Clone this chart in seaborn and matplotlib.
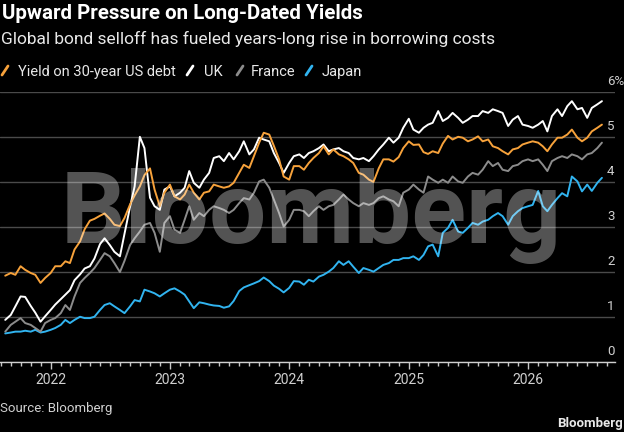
#  Import Libraries

import pandas as pd
import numpy as np
import matplotlib
matplotlib.use("Agg")
import matplotlib.pyplot as plt
import matplotlib.dates as mdates
import matplotlib.transforms as mtransforms
from matplotlib.lines import Line2D
import seaborn as sns

sns.set_theme(style="dark")
plt.rcParams['font.family'] = ['Roboto', 'DejaVu Sans']

# ==========================
#  Data (semi-monthly readings, %)
# ==========================
dates = pd.date_range("2021-08-15", periods=121, freq="SMS")

us_30y = [1.92, 1.98, 1.94, 2.13, 2.05, 1.98, 1.94, 1.76, 1.87, 1.98,
          2.13, 2.13, 2.24, 2.20, 2.50, 2.68, 2.95, 3.14, 3.18, 3.25,
          3.30, 3.18, 3.05, 3.02, 3.20, 3.50, 3.70, 3.90, 4.15,
          4.30, 3.83, 3.46, 3.76, 3.94, 3.68, 3.61, 3.72, 3.94, 3.76,
          3.61, 3.76, 3.79, 3.94, 3.90, 3.87, 3.90, 3.98, 4.20, 4.38,
          4.31, 4.57, 4.87, 5.09, 5.05, 4.80, 4.50, 4.12, 4.05, 4.35,
          4.35, 4.27, 4.42, 4.53, 4.64, 4.79, 4.61, 4.72, 4.61, 4.57,
          4.50, 4.42, 4.20, 4.16, 4.05, 4.00, 4.30, 4.50, 4.50, 4.45,
          4.55, 4.75, 4.90, 4.82, 4.83, 4.66, 4.62, 4.68, 4.64, 4.85,
          5.02, 4.94,
          5.00, 4.98, 4.90, 4.94, 5.01, 4.90, 4.94, 4.79, 4.75, 4.68,
          4.61, 4.72, 4.75, 4.83, 4.87, 4.90, 4.87, 4.79, 4.68, 4.83,
          4.98, 4.98, 5.05, 5.16, 4.98, 4.90, 4.98, 5.12, 5.20, 5.27]

uk = [0.94, 1.05, 1.24, 1.46, 1.45, 1.25, 1.10, 0.90, 1.02, 1.16,
      1.28, 1.40, 1.50, 1.60, 1.82, 1.95, 2.08, 2.13, 2.30, 2.62,
      2.75, 2.60, 2.45, 2.35, 2.85, 3.45, 3.90, 5.00, 4.75,
      3.65, 3.46, 3.38, 3.83, 3.90, 3.68, 3.76, 3.87, 4.24, 3.98,
      3.87, 4.05, 4.20, 4.53, 4.57, 4.46, 4.64, 4.50, 4.68, 4.90,
      4.61, 4.72, 4.98, 4.94, 4.90, 4.64, 4.42, 4.20, 4.42, 4.57,
      4.61, 4.53, 4.64, 4.68, 4.75, 4.83, 4.68, 4.72, 4.75, 4.68,
      4.64, 4.53, 4.50, 4.53, 4.46, 4.57, 4.72, 4.83, 4.98, 4.87,
      4.98, 5.20, 5.40, 5.16, 5.09, 5.20, 5.27, 5.31, 5.57, 5.35,
      5.42, 5.53,
      5.42, 5.31, 5.38, 5.46, 5.46, 5.57, 5.53, 5.61, 5.57, 5.53,
      5.24, 5.38, 5.46, 5.27, 5.24, 5.20, 5.27, 5.35, 5.12, 5.46,
      5.61, 5.46, 5.68, 5.79, 5.61, 5.64, 5.42, 5.64, 5.72, 5.79]

france = [0.68, 0.83, 0.90, 0.98, 0.87, 0.83, 0.76, 0.68, 0.87, 0.94,
          0.98, 1.09, 1.27, 1.16, 1.46, 1.76, 1.87, 1.98, 2.09, 2.27,
          2.42, 2.35, 2.20, 2.00, 2.25, 2.60, 2.75, 2.90, 3.05,
          3.09, 2.87, 2.45, 3.09, 3.24, 2.94, 2.87, 3.16, 3.46, 3.16,
          3.31, 3.24, 3.38, 3.46, 3.42, 3.38, 3.31, 3.38, 3.53, 3.64,
          3.61, 3.76, 4.01, 4.05, 3.87, 3.61, 3.31, 3.01, 3.16, 3.38,
          3.38, 3.35, 3.24, 3.35, 3.46, 3.38, 3.46, 3.49, 3.61, 3.72,
          3.61, 3.53, 3.46, 3.53, 3.49, 3.53, 3.64, 3.68, 3.61, 3.57,
          3.46, 3.76, 3.83, 3.94, 3.83, 3.76, 4.12, 4.05, 3.98, 4.05,
          3.98, 4.12,
          4.01, 3.98, 4.12, 4.20, 4.16, 4.27, 4.46, 4.35, 4.42, 4.27,
          4.24, 4.35, 4.38, 4.46, 4.50, 4.46, 4.50, 4.38, 4.24, 4.46,
          4.53, 4.57, 4.53, 4.61, 4.57, 4.50, 4.61, 4.64, 4.75, 4.87]

japan = [0.64, 0.66, 0.68, 0.68, 0.70, 0.68, 0.72, 0.66, 0.68, 0.72,
         0.76, 0.83, 0.94, 0.87, 0.94, 1.01, 0.98, 0.98, 1.01, 1.16,
         1.27, 1.31, 1.24, 1.16, 1.09, 1.24, 1.38, 1.35, 1.61,
         1.57, 1.53, 1.46, 1.53, 1.61, 1.64, 1.57, 1.50, 1.35, 1.20,
         1.33, 1.31, 1.28, 1.26, 1.25, 1.21, 1.24, 1.36, 1.58, 1.66,
         1.71, 1.75, 1.80, 1.88, 1.80, 1.70, 1.63, 1.55, 1.65, 1.80,
         1.79, 1.72, 1.83, 1.79, 1.90, 1.94, 2.01, 2.09, 2.24, 2.16,
         2.24, 2.12, 1.98, 2.09, 2.05, 2.01, 2.09, 2.16, 2.20, 2.27,
         2.27, 2.31, 2.31, 2.35, 2.27, 2.38, 2.57, 2.61, 2.35, 2.87,
         2.98, 3.16,
         2.90, 2.87, 2.98, 3.09, 3.05, 3.12, 3.16, 3.24, 3.31, 3.24,
         3.05, 3.24, 3.35, 3.42, 3.46, 3.49, 3.80, 3.46, 3.35, 3.49,
         3.64, 3.75, 3.68, 4.12, 4.01, 3.79, 3.94, 3.80, 3.98, 4.09]

series_names = ["Yield on 30-year US debt", "UK", "France", "Japan"]
series_colors = ["#f7a23b", "#ffffff", "#8c8c8c", "#31b4f0"]
y_ticks = [0, 1, 2, 3, 4, 5, 6]

# long table for seaborn
df = pd.concat([
    pd.DataFrame({"date": dates, "yield": vals, "series": name})
    for name, vals in zip(series_names, [us_30y, uk, france, japan])
])

# ==========================
#  Figure
# ==========================
W, H = 624, 432
fig = plt.figure(figsize=(W / 100, H / 100), dpi=100, facecolor="black")


def fx(x):
    return x / W


def fy(y):
    return 1 - y / H


ax = fig.add_axes([0, fy(362.3), fx(615), fy(91.7) - fy(362.3)])
ax.set_facecolor("black")

# draw US last so it sits on top
order = series_names[::-1]
palette = dict(zip(series_names, series_colors))
sns.lineplot(data=df, x="date", y="yield", hue="series", hue_order=order,
             palette=palette, linewidth=1.4, legend=False, ax=ax)

ax.set_xlim(pd.Timestamp("2021-07-30"), pd.Timestamp("2026-09-24"))
ax.set_ylim(0, 6)
ax.set_xlabel("")
ax.set_ylabel("")

# grid + spines
ax.set_yticks(y_ticks)
ax.yaxis.grid(True, color="#4a4a4a", linewidth=1)
ax.xaxis.grid(False)
ax.tick_params(axis="y", length=0, labelleft=False, labelright=False)
for s in ["left", "right", "top"]:
    ax.spines[s].set_visible(False)
ax.spines["bottom"].set_color("#d0d0d0")
ax.spines["bottom"].set_linewidth(1)

ax.xaxis.set_major_locator(mdates.YearLocator())
ax.xaxis.set_minor_locator(mdates.MonthLocator())
ax.xaxis.set_major_formatter(mdates.DateFormatter("%Y"))
ax.tick_params(axis="x", which="major", direction="out", length=5, width=1,
               color="#c8c8c8", labelcolor="#d0d0d0", labelsize=10, pad=3,
               bottom=True)
ax.tick_params(axis="x", which="minor", direction="out", length=2.7, width=1,
               color="#c8c8c8", bottom=True)

# y labels sit above gridlines on the right
ylab_tr = mtransforms.offset_copy(
    mtransforms.blended_transform_factory(fig.transFigure, ax.transData),
    fig=fig, x=0, y=10.5, units="dots")
for v in y_ticks:
    lab = f"{v}%" if v == y_ticks[-1] else str(v)
    fig.text(fx(607), v, lab, transform=ylab_tr, ha="left", va="center",
             fontsize=9.5, color="#d0d0d0")

# ==========================
#  Titles / legend / notes
# ==========================
fig.text(fx(2), fy(19), "Upward Pressure on Long-Dated Yields", ha="left",
         va="baseline", fontsize=14.8, fontweight="bold", color="white")
fig.text(fx(1), fy(44), "Global bond selloff has fueled years-long rise in borrowing costs",
         ha="left", va="baseline", fontsize=12.5, color="#e8e8e8")

legend_x = [(2, 18), (187, 204), (237, 251), (306, 322)]
for (sx, tx), name, col in zip(legend_x, series_names, series_colors):
    fig.add_artist(Line2D([fx(sx), fx(sx + 6)], [fy(75), fy(66)],
                          transform=fig.transFigure, color=col, linewidth=2))
    fig.text(fx(tx), fy(75.6), name, ha="left", va="baseline",
             fontsize=10.5, color="#e8e8e8")

fig.text(fx(0.5), fy(412.3), "Source: Bloomberg", ha="left", va="baseline",
         fontsize=9.5, color="#d0d0d0")
fig.text(fx(623), fy(427.3), "Bloomberg", ha="right", va="baseline",
         fontsize=9.5, fontweight="bold", color="#e8e8e8")

# watermark
fig.text(fx(311.5), fy(243), "Bloomberg", ha="center", va="baseline",
         fontsize=73, fontweight="bold", color="white", alpha=0.33)

fig.savefig("out.png", dpi=100, facecolor="black")
